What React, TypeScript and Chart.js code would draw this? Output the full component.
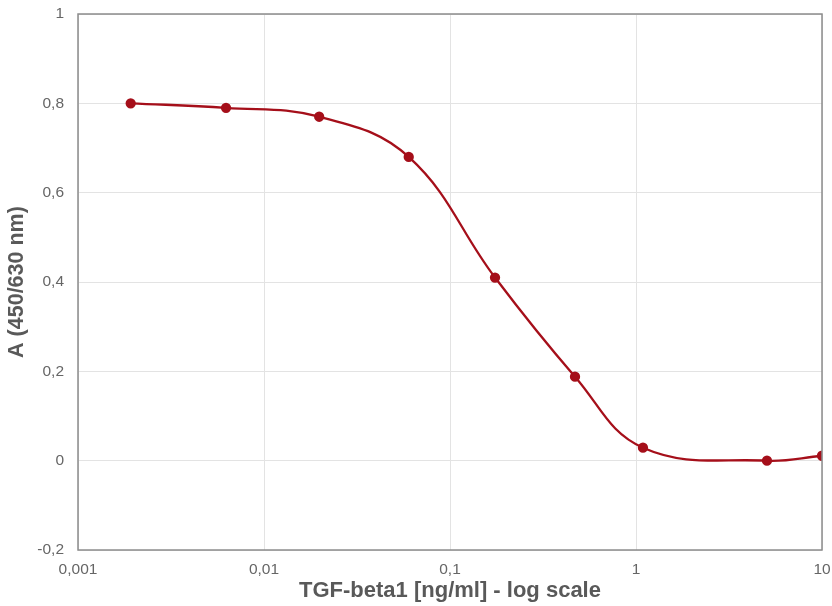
import React, { useEffect, useRef } from "react";
import { Chart, registerables } from "chart.js";

Chart.register(...registerables);

const concentrations = [0.00192, 0.00625, 0.0198, 0.06, 0.1746, 0.47, 1.09, 5.06, 10];
const absorbance = [0.8, 0.79, 0.77, 0.68, 0.41, 0.188, 0.029, 0.0, 0.011];
const xTickValues = [0.001, 0.01, 0.1, 1, 10];
const xTitle = "TGF-beta1 [ng/ml] - log scale";
const yTitle = "A (450/630 nm)";

const fmt = (v: number) => String(Math.round(v * 100000) / 100000).replace(".", ",");

const frame = {
  id: "frame",
  afterDatasetsDraw(chart: any) {
    const { ctx, chartArea } = chart;
    ctx.save();
    ctx.strokeStyle = "#8c8c8c";
    ctx.lineWidth = 1.5;
    ctx.strokeRect(chartArea.left, chartArea.top, chartArea.right - chartArea.left, chartArea.bottom - chartArea.top);
    ctx.restore();
  },
};

const FONT = "'Liberation Sans', Arial, sans-serif";

export default function App() {
  const ref = useRef<HTMLCanvasElement>(null);
  useEffect(() => {
    document.body.style.margin = "0";
    const chart = new Chart(ref.current!, {
      type: "line",
      data: {
        datasets: [
          {
            data: concentrations.map((x, i) => ({ x, y: absorbance[i] })),
            borderColor: "#A50F1A",
            backgroundColor: "#A50F1A",
            borderWidth: 2.3,
            pointRadius: 4,
            pointHoverRadius: 4,
            tension: 0.4,
            fill: false,
          },
        ],
      },
      options: {
        animation: false,
        responsive: false,
        layout: { padding: { top: 14, right: 10, left: 0, bottom: 0 } },
        plugins: { legend: { display: false }, tooltip: { enabled: false } },
        scales: {
          x: {
            type: "logarithmic",
            min: 0.001,
            max: 10,
            afterBuildTicks: (s: any) => {
              s.ticks = xTickValues.map((v) => ({ value: v, major: true }));
            },
            afterFit: (s: any) => {
              s.height = 56;
              s.paddingLeft = 0;
              s.paddingRight = 0;
            },
            grid: { color: "#e3e3e3", lineWidth: 1, drawTicks: false },
            border: { display: false },
            ticks: {
              color: "#666666",
              font: { family: FONT, size: 15.5 },
              padding: 10,
              maxRotation: 0,
              autoSkip: false,
              callback: (v: any) => fmt(Number(v)),
            },
            title: {
              display: true,
              text: xTitle,
              color: "#595959",
              font: { family: FONT, size: 22, weight: "bold" },
              padding: { top: 0, bottom: 2 },
            },
          },
          y: {
            min: -0.2,
            max: 1,
            afterFit: (s: any) => {
              s.width = 78;
              s.paddingTop = 0;
              s.paddingBottom = 0;
            },
            grid: { color: "#e3e3e3", lineWidth: 1, drawTicks: false },
            border: { display: false },
            ticks: {
              stepSize: 0.2,
              color: "#666666",
              font: { family: FONT, size: 15.5 },
              padding: 14,
              callback: (v: any) => fmt(Number(v)),
            },
            title: {
              display: true,
              text: yTitle,
              color: "#595959",
              font: { family: FONT, size: 21.5, weight: "bold" },
              padding: { top: 4, bottom: 0 },
            },
          },
        },
      },
      plugins: [frame],
    });
    return () => chart.destroy();
  }, []);
  return (
    <div style={{ position: "absolute", left: 0, top: 0, width: 832, height: 606, background: "#fff" }}>
      <canvas ref={ref} width={832} height={606} />
    </div>
  );
}
